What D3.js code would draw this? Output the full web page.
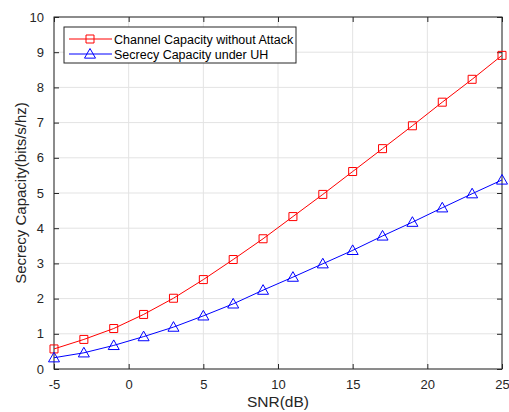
<!DOCTYPE html>
<html>
<head>
<meta charset="utf-8">
<script src="https://cdn.jsdelivr.net/npm/d3@7"></script>
<style>
  body { margin: 0; background: #fff; }
  text { font-family: "Liberation Sans", Arial, sans-serif; }
</style>
</head>
<body>
<div id="chart"></div>
<script>
// data
var snr = [-5, -3, -1, 1, 3, 5, 7, 9, 11, 13, 15, 17, 19, 21, 23, 25];
var capNoAttack = [0.57, 0.84, 1.15, 1.55, 2.01, 2.54, 3.11, 3.70, 4.33, 4.96, 5.61, 6.26, 6.91, 7.58, 8.23, 8.91];
var capUnderUH = [0.32, 0.46, 0.67, 0.92, 1.19, 1.51, 1.85, 2.24, 2.61, 2.99, 3.37, 3.78, 4.17, 4.58, 4.98, 5.37];
var xTicks = [-5, 0, 5, 10, 15, 20, 25];
var yTicks = [0, 1, 2, 3, 4, 5, 6, 7, 8, 9, 10];
var seriesNames = ["Channel Capacity without Attack", "Secrecy Capacity under UH"];

var svgWidth = 509, svgHeight = 412;
var margin = { top: 17, right: 7, bottom: 43, left: 54 };
var width = svgWidth - margin.left - margin.right;
var height = svgHeight - margin.top - margin.bottom;

var svg = d3.select("#chart").append("svg")
  .attr("width", svgWidth)
  .attr("height", svgHeight);

var g = svg.append("g")
  .attr("transform", `translate(${margin.left}, ${margin.top})`);

var x = d3.scaleLinear().domain([-5, 25]).range([0, width]);
var y = d3.scaleLinear().domain([0, 10]).range([height, 0]);

// plain hyphen like matlab, not unicode minus
var fmt = d => String(d);

// grid
g.append("g").selectAll("line").data(xTicks).enter().append("line")
  .attr("x1", d => x(d)).attr("x2", d => x(d))
  .attr("y1", 0).attr("y2", height)
  .attr("stroke", "#e3e3e3");
g.append("g").selectAll("line").data(yTicks).enter().append("line")
  .attr("y1", d => y(d)).attr("y2", d => y(d))
  .attr("x1", 0).attr("x2", width)
  .attr("stroke", "#e3e3e3");

// axes (ticks inward, box on)
var axisColor = "#262626";
function styleAxis(sel) {
  sel.select(".domain").remove();
  sel.selectAll("line").attr("stroke", axisColor);
  sel.selectAll("text").attr("fill", axisColor).style("font-size", "13px");
}
g.append("g").attr("transform", `translate(0, ${height})`)
  .call(d3.axisBottom(x).tickValues(xTicks).tickSizeInner(-5).tickPadding(11).tickFormat(fmt))
  .call(styleAxis);
g.append("g")
  .call(d3.axisLeft(y).tickValues(yTicks).tickSizeInner(-5).tickPadding(10).tickFormat(fmt))
  .call(styleAxis);
g.append("g")
  .call(d3.axisTop(x).tickValues(xTicks).tickSizeInner(-5).tickFormat(""))
  .call(styleAxis);
g.append("g").attr("transform", `translate(${width}, 0)`)
  .call(d3.axisRight(y).tickValues(yTicks).tickSizeInner(-5).tickFormat(""))
  .call(styleAxis);
g.append("rect")
  .attr("width", width).attr("height", height)
  .attr("fill", "none").attr("stroke", axisColor).attr("stroke-width", 1);

// lines
var pts = function(vals) { return snr.map((s, i) => [s, vals[i]]); };
var line = d3.line().x(d => x(d[0])).y(d => y(d[1]));

g.append("path").datum(pts(capNoAttack))
  .attr("d", line).attr("fill", "none").attr("stroke", "#f00").attr("stroke-width", 1);
g.append("path").datum(pts(capUnderUH))
  .attr("d", line).attr("fill", "none").attr("stroke", "#00f").attr("stroke-width", 1);

var sq = d3.symbol().type(d3.symbolSquare).size(64);
var tri = function(cx, cy) {
  var r = 5.5;
  return `M${cx},${cy - r}L${cx + r},${cy + r * 0.75}L${cx - r},${cy + r * 0.75}Z`;
};

g.append("g").selectAll("path").data(pts(capNoAttack)).enter().append("path")
  .attr("d", sq)
  .attr("transform", d => `translate(${x(d[0])}, ${y(d[1])})`)
  .attr("fill", "none").attr("stroke", "#f00");
g.append("g").selectAll("path").data(pts(capUnderUH)).enter().append("path")
  .attr("d", d => tri(x(d[0]), y(d[1])))
  .attr("fill", "none").attr("stroke", "#00f");

// legend
var lg = svg.append("g").attr("transform", "translate(64, 27)");
lg.append("rect").attr("width", 232).attr("height", 36)
  .attr("fill", "#fff").attr("stroke", axisColor).attr("stroke-width", 1);
var rowsY = [12, 27];
var colors = ["#f00", "#00f"];
seriesNames.forEach(function(name, i) {
  lg.append("line").attr("x1", 5).attr("x2", 48)
    .attr("y1", rowsY[i]).attr("y2", rowsY[i])
    .attr("stroke", colors[i]);
  if (i === 0) {
    lg.append("path").attr("d", sq).attr("transform", `translate(26, ${rowsY[i]})`)
      .attr("fill", "none").attr("stroke", colors[i]);
  } else {
    lg.append("path").attr("d", tri(26, rowsY[i])).attr("fill", "none").attr("stroke", colors[i]);
  }
  lg.append("text").attr("x", 50).attr("y", rowsY[i] + 4.5)
    .style("font-size", "12.5px").attr("fill", "#000").text(name);
});

// axis labels
svg.append("text")
  .attr("x", margin.left + width / 2).attr("y", 407)
  .attr("text-anchor", "middle").style("font-size", "15.5px").attr("fill", axisColor)
  .text("SNR(dB)");
svg.append("text")
  .attr("transform", `translate(26, ${margin.top + height / 2}) rotate(-90)`)
  .attr("text-anchor", "middle").style("font-size", "15px").attr("fill", axisColor)
  .text("Secrecy Capacity(bits/s/hz)");
</script>
</body>
</html>
